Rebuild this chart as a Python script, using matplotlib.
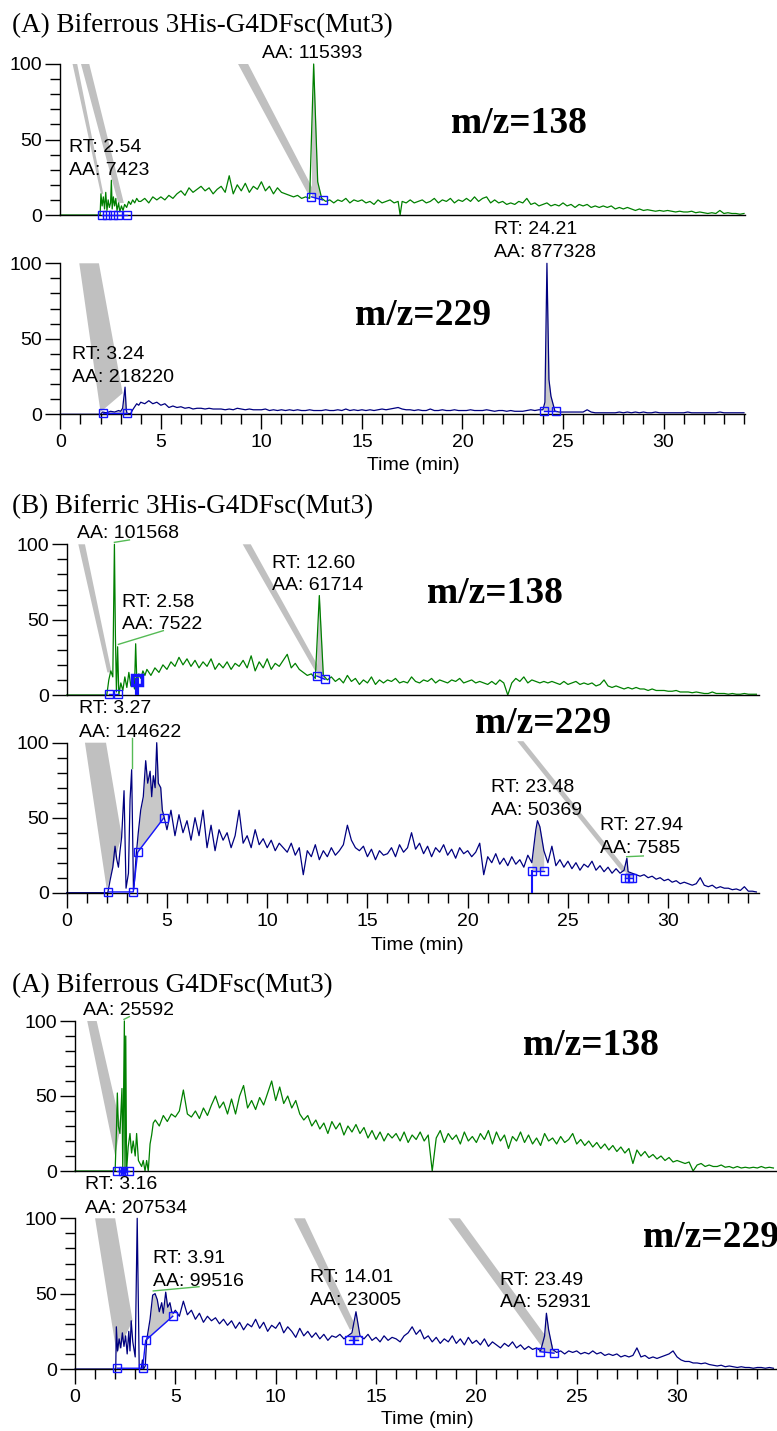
import numpy as np
import matplotlib
matplotlib.use('Agg')
import matplotlib.pyplot as plt

plt.rcParams['font.family'] = ['Liberation Sans', 'DejaVu Sans']

# ---------------- data (time in min, relative abundance in %) ----------------
# each trace = early hand-read points + points on a 0.2 min grid + extra peak points

# (A) Biferrous 3His-G4DFsc(Mut3), m/z=138
p1_t0 = [0, 1.98, 2.02, 2.08, 2.14, 2.2, 2.26, 2.32, 2.38, 2.44, 2.5, 2.54, 2.58, 2.64, 2.7, 2.76,
         2.82, 2.9, 2.96, 3.04, 3.12, 3.2, 3.3, 3.4, 3.5, 3.6, 3.7, 3.8, 3.9]
p1_y0 = [0, 0, 14, 6, 12, 4, 15, 3, 10, 5, 8, 23, 4, 12, 6, 11,
         3, 8, 2, 6, 3, 7, 5, 9, 7, 10, 8, 11, 9]
p1_start = 4.0
p1_grid = [9, 11, 8, 12, 10, 12, 10, 13, 11, 14, 16, 13, 18, 15, 17, 19, 16, 18, 14, 17,
           19, 15, 26, 14, 20, 16, 21, 15, 19, 17, 22, 16, 19, 14, 18, 15, 14, 13, 12, 13,
           11, 12, 11, 100, 22, 11, 9, 10, 8, 10, 9, 11, 8, 10, 9, 10, 8, 9, 7, 10,
           8, 9, 10, 8, 9, 9, 8, 10, 8, 9, 10, 8, 9, 11, 8, 10, 9, 11, 8, 10,
           9, 11, 9, 12, 9, 11, 12, 8, 10, 8, 9, 7, 8, 7, 9, 8, 11, 7, 8, 6,
           7, 8, 6, 7, 6, 8, 6, 7, 5, 7, 6, 7, 5, 6, 5, 6, 5, 6, 4, 5,
           4, 5, 4, 3, 4, 3, 3.5, 3, 2.5, 3, 2.5, 3, 2.5, 2, 2.5, 2, 2, 2.5, 1.5, 2,
           1.5, 1, 1.5, 1, 3, 1, 1.5, 1, 1, 0.5, 1]
p1_tx = [16.9]
p1_yx = [0]

# (A) Biferrous 3His-G4DFsc(Mut3), m/z=229
p2_t0 = [0, 2.0, 2.1, 2.3, 2.5, 2.7, 2.9, 3.0, 3.1, 3.22, 3.28, 3.32, 3.5, 3.6, 3.7, 3.8, 3.9]
p2_y0 = [0, 0, 1.5, 1, 2, 1.5, 2.5, 2, 4, 18, 3, 0.5, 0.5, 3, 5, 7, 6]
p2_start = 4.0
p2_grid = [8, 7, 9, 7, 8, 6, 7, 4.5, 5.5, 4.5, 5, 4, 4.5, 3.5, 4, 4, 3.5, 4, 3.5, 3.5,
           3.5, 3, 3.5, 3, 4, 3.5, 3, 3.5, 3, 3, 3, 3.5, 2.5, 3, 2.5, 3, 2.5, 3, 2.5, 3,
           2.5, 2.5, 3, 2.5, 2.5, 2.5, 3, 2.5, 2.5, 3, 2.5, 3.5, 2.5, 3, 2.5, 3, 2.5, 3, 2.5, 3,
           3.5, 3, 3.5, 4, 4.5, 3.5, 3, 3, 2.5, 3, 2.5, 2.5, 3.5, 2.5, 2.5, 3, 2.5, 2.5, 3, 2.5,
           2.5, 2.5, 3, 2.5, 2.5, 2.5, 3, 2.5, 2, 2.5, 2.5, 2, 2.5, 2, 2, 2, 2.5, 3, 2.5, 3,
           3, 100, 12, 2, 1.5, 1.5, 1.5, 1.5, 1.5, 1.5, 1.5, 3, 1.5, 1, 1, 1, 1, 1, 1, 1.5,
           1, 1.5, 1, 1.5, 1, 1.5, 1, 1, 1.5, 1, 1, 1, 1, 1, 1, 1, 1.5, 1, 1, 1,
           1, 1, 1, 1, 1.5, 1, 1, 1, 1, 1, 1]
p2_tx = [24.1, 24.3]
p2_yx = [8, 23]

# (B) Biferric 3His-G4DFsc(Mut3), m/z=138
p3_t0 = [0, 2.0, 2.1, 2.2, 2.3, 2.38, 2.43, 2.48, 2.54, 2.6, 2.7, 2.8, 2.9, 3.0, 3.1, 3.2,
         3.3, 3.38, 3.44, 3.5, 3.6, 3.7, 3.8, 3.9]
p3_y0 = [0, 0, 10, 16, 12, 100, 39, 2, 32, 0, 8, 3, 12, 5, 15, 6,
         12, 4, 34, 8, 14, 11, 16, 13]
p3_start = 4.0
p3_grid = [17, 13, 18, 15, 20, 17, 22, 19, 25, 20, 24, 19, 23, 18, 22, 19, 24, 17, 21, 18,
           22, 17, 21, 19, 23, 18, 26, 16, 22, 18, 24, 17, 21, 19, 23, 27, 18, 21, 17, 15,
           13, 14, 11, 66, 13, 10, 12, 9, 11, 8, 13, 9, 11, 7, 10, 8, 12, 7, 10, 8,
           10, 9, 11, 8, 9, 8, 12, 9, 8, 10, 9, 11, 8, 10, 9, 8, 10, 9, 11, 8,
           9, 10, 8, 9, 8, 7, 9, 7, 10, 8, 0, 8, 11, 9, 12, 8, 10, 9, 8, 9,
           8, 9, 8, 7, 9, 7, 8, 9, 7, 8, 7, 8, 6, 7, 10, 6, 5, 6, 5, 4,
           5, 4, 5, 4, 4, 3, 4, 3, 3, 3, 2.5, 2.5, 3, 2, 2, 2, 1.5, 2, 1.5, 1,
           1, 2, 1, 1, 1, 0.5, 1, 0.5, 0.5, 1, 0.5, 0.5, 0.5]
p3_tx = []
p3_yx = []

# (B) Biferric 3His-G4DFsc(Mut3), m/z=229
p4_t0 = [0, 2.05, 2.16, 2.3, 2.41, 2.5, 2.58, 2.66, 2.74, 2.86, 2.96, 3.08, 3.16, 3.24, 3.33,
         3.37, 3.46, 3.57, 3.69, 3.82, 3.94, 4.04, 4.16, 4.24, 4.32, 4.41, 4.49, 4.57, 4.69,
         4.77, 4.85]
p4_y0 = [0, 0, 8, 17, 31, 22, 17, 28, 37, 68, 3, 13, 62, 82, 2,
         6, 24, 40, 55, 64, 88, 73, 81, 64, 78, 70, 100, 73, 70,
         55, 51]
p4_start = 5.0
p4_grid = [42, 55, 38, 52, 40, 48, 35, 50, 38, 55, 30, 45, 28, 42, 35, 40, 30, 38, 55, 33,
           38, 30, 42, 32, 36, 30, 35, 28, 33, 30, 27, 33, 25, 30, 12, 28, 24, 32, 22, 28,
           24, 30, 25, 28, 32, 45, 35, 30, 28, 31, 24, 29, 22, 28, 25, 26, 30, 24, 32, 27,
           30, 40, 29, 33, 26, 31, 24, 30, 27, 32, 25, 29, 23, 30, 26, 28, 24, 27, 33, 12,
           24, 20, 26, 19, 23, 18, 24, 19, 22, 17, 25, 20, 42, 44, 28, 20, 31, 18, 22, 17,
           21, 16, 20, 15, 19, 17, 21, 15, 18, 14, 17, 13, 16, 13, 15, 14, 13, 12, 11, 12,
           10, 11, 9, 10, 8, 9, 7, 8, 6, 7, 6, 5, 6, 10, 5, 4, 5, 3, 4, 3,
           3, 2, 2.5, 1.5, 4, 1, 1, 0.5]
p4_tx = [23.48, 27.94]
p4_yx = [48, 23]

# (A) Biferrous G4DFsc(Mut3), m/z=138
p5_t0 = [0, 2.0, 2.06, 2.11, 2.16, 2.24, 2.34, 2.38, 2.46, 2.49, 2.53, 2.57, 2.65, 2.74, 2.82,
         2.9, 3.0, 3.07, 3.16, 3.32, 3.4, 3.49, 3.57, 3.65, 3.74, 3.82, 3.9]
p5_y0 = [0, 0, 25, 52, 30, 25, 55, 0, 100, 0, 90, 0, 16, 25, 12,
         20, 10, 25, 7, 3, 7, 0, 7, 0, 18, 24, 32]
p5_start = 4.0
p5_grid = [34, 30, 37, 33, 38, 36, 40, 54, 38, 36, 40, 35, 42, 37, 44, 50, 42, 46, 38, 48,
           38, 50, 57, 42, 47, 41, 49, 44, 52, 60, 47, 56, 45, 50, 42, 47, 38, 34, 37, 30,
           34, 28, 32, 25, 33, 28, 32, 24, 30, 26, 31, 25, 29, 22, 27, 21, 26, 20, 25, 22,
           25, 20, 26, 19, 24, 21, 26, 20, 24, 0, 22, 27, 19, 25, 21, 24, 18, 26, 20, 23,
           19, 25, 21, 27, 18, 26, 20, 24, 15, 23, 20, 26, 19, 24, 18, 22, 17, 25, 20, 22,
           18, 23, 19, 21, 25, 18, 21, 17, 20, 16, 19, 15, 18, 14, 17, 13, 16, 12, 15, 5,
           14, 10, 13, 9, 11, 8, 10, 7, 9, 6, 7, 6, 5, 6, 0, 4, 5, 3, 4, 3,
           3, 4, 2.5, 3, 2, 3, 2, 2.5, 2, 2.5, 2, 3, 2, 2.5, 2]
p5_tx = []
p5_yx = []

# (A) Biferrous G4DFsc(Mut3), m/z=229
p6_t0 = [0, 2.03, 2.06, 2.12, 2.2, 2.28, 2.36, 2.44, 2.52, 2.6, 2.68, 2.74, 2.8, 2.88, 3.0,
         3.1, 3.2, 3.3, 3.36, 3.42, 3.5, 3.57, 3.74, 3.87, 3.99, 4.1, 4.2, 4.32, 4.4, 4.52,
         4.62, 4.73, 4.82, 4.9]
p6_y0 = [0, 0, 28, 12, 20, 14, 24, 15, 22, 10, 25, 12, 32, 18, 8,
         100, 0, 0, 6, 0, 2, 19, 33, 49, 50, 46, 38, 44, 37, 51,
         41, 44, 38, 37]
p6_start = 5.0
p6_grid = [39, 35, 45, 36, 39, 33, 37, 31, 35, 32, 34, 30, 33, 29, 32, 27, 31, 26, 30, 28,
           33, 27, 31, 25, 29, 27, 31, 24, 28, 25, 21, 27, 22, 25, 21, 24, 20, 23, 19, 22,
           21, 23, 20, 22, 24, 38, 22, 20, 23, 19, 21, 18, 22, 19, 21, 20, 18, 22, 24, 28,
           23, 26, 20, 22, 18, 21, 17, 20, 18, 22, 17, 20, 16, 21, 17, 19, 16, 20, 15, 18,
           16, 14, 17, 15, 18, 14, 16, 13, 15, 13, 14, 12, 22, 26, 13, 11, 12, 10, 12, 11,
           12, 10, 11, 10, 12, 10, 11, 9, 10, 9, 10, 8, 9, 8, 9, 14, 8, 9, 7, 8,
           7, 8, 9, 10, 12, 8, 6, 5, 5, 4, 4, 3.5, 4, 3, 2.5, 2, 2.5, 1.5, 2, 1.5,
           1, 1.5, 1, 1, 0.5, 1, 1, 0.5, 1, 0.5]
p6_tx = [23.49]
p6_yx = [37]

# integration marks (blue squares joined by baselines) and integrated areas
p1_marks = [[(2.06, 0), (2.34, 0), (2.6, 0), (2.85, 0), (3.3, 0)], [(12.49, 12), (13.04, 10)]]
p1_fills = [((12.49, 12), (13.04, 10))]
p2_marks = [[(2.1, 1), (3.34, 1)], [(24.03, 2), (24.66, 2)]]
p2_fills = [((2.1, 1), (3.34, 1)), ((24.03, 2), (24.66, 2))]
p3_marks = [[(2.11, 0.5), (2.58, 0.5)], [(12.47, 12.6), (12.88, 10.4)]]
p3_fills = [((12.47, 12.6), (12.88, 10.4))]
p4_marks = [[(2.08, 0.5), (3.32, 0.5), (3.54, 27), (4.85, 50)], [(23.2, 14.4), (23.79, 14.4)],
            [(27.86, 9.6), (28.05, 9.6), (28.22, 9.6)]]
p4_fills = [((3.54, 27), (4.85, 50)), ((23.2, 14.4), (23.79, 14.4)), ((27.86, 9.6), (28.22, 9.6))]
p5_marks = [[(2.08, 0), (2.39, 0), (2.69, 0)]]
p5_fills = []
p6_marks = [[(2.11, 0.5), (3.37, 0.5), (3.52, 19), (4.87, 35)], [(13.67, 19), (14.12, 19)],
            [(23.17, 11.5), (23.87, 10.5)]]
p6_fills = [((3.52, 19), (4.87, 35)), ((13.67, 19), (14.12, 19)), ((23.17, 11.5), (23.87, 10.5))]

# grey label bands (time, %) corners
p1_bands = [[(0.61, 100), (0.84, 100), (2.14, 14), (2.02, 14)],
            [(1.03, 100), (1.44, 100), (3.16, 8), (2.88, 8)],
            [(8.84, 100), (9.34, 100), (12.65, 15), (12.32, 14)]]
p2_bands = [[(0.945, 100), (1.92, 100), (3.1, 14), (2.0, 1.5)]]
p3_bands = [[(0.58, 100), (0.91, 100), (2.24, 15), (2.03, 15)],
            [(8.78, 100), (9.18, 100), (12.67, 16), (12.39, 16)]]
p4_bands = [[(0.91, 100), (1.96, 100), (2.74, 38), (2.0, 2)],
            [(22.47, 101), (22.78, 101), (28.0, 14), (27.7, 14)]]
p5_bands = [[(0.61, 100), (1.08, 100), (2.28, 30), (2.0, 10)]]
p6_bands = [[(1.0, 100), (2.0, 100), (2.87, 32), (2.08, 10)],
            [(10.91, 100), (11.46, 100), (14.0, 28), (13.7, 26)],
            [(18.6, 100), (19.18, 100), (23.83, 15), (23.25, 15)]]

# green leader lines
p3_leads = [[(2.38, 101.3), (3.13, 102.9)], [(2.58, 33.6), (4.82, 42.7)]]
p4_leads = [[(3.25, 82.9), (3.25, 103.3)], [(27.93, 24), (28.76, 24.5)]]
p5_leads = [[(2.44, 101.1), (2.71, 102.9)]]
p6_leads = [[(3.9, 51.8), (6.18, 54.6)]]

# peak labels: (x px, baseline px, text)
peak_labels = [
    (69, 151.7, 'RT: 2.54'), (69, 175, 'AA: 7423'), (262, 58.3, 'AA: 115393'),
    (72, 359.3, 'RT: 3.24'), (72, 381.7, 'AA: 218220'),
    (494.3, 234.3, 'RT: 24.21'), (494.3, 256.7, 'AA: 877328'),
    (77, 538.3, 'AA: 101568'), (121.7, 606.7, 'RT: 2.58'), (121.7, 629, 'AA: 7522'),
    (271.7, 567.7, 'RT: 12.60'), (271.7, 590, 'AA: 61714'),
    (79, 713.3, 'RT: 3.27'), (79, 736.7, 'AA: 144622'),
    (491, 792.3, 'RT: 23.48'), (491, 815, 'AA: 50369'),
    (600, 830, 'RT: 27.94'), (600, 852.7, 'AA: 7585'),
    (82.7, 1015.3, 'AA: 25592'), (85, 1189, 'RT: 3.16'), (85, 1213.3, 'AA: 207534'),
    (152.7, 1263.3, 'RT: 3.91'), (152.7, 1286, 'AA: 99516'),
    (310, 1281.7, 'RT: 14.01'), (310, 1305, 'AA: 23005'),
    (500, 1285, 'RT: 23.49'), (500, 1307.3, 'AA: 52931'),
]
titles = ['(A) Biferrous 3His-G4DFsc(Mut3)', '(B) Biferric 3His-G4DFsc(Mut3)', '(A) Biferrous G4DFsc(Mut3)']
mz_labels = ['m/z=138', 'm/z=229', 'm/z=138', 'm/z=229', 'm/z=138', 'm/z=229']

# ---------------- drawing ----------------
W, H = 777, 1431
fig = plt.figure(figsize=(W / 100, H / 100), dpi=100)

GREEN = '#008000'
NAVY = '#000080'
BLUE = '#1414ff'
GREY = '#c0c0c0'
LEAD = '#55bb55'


def px_axes(x0, x1, ytop, ybot):
    return fig.add_axes([x0 / W, 1 - ybot / H, (x1 - x0) / W, (ybot - ytop) / H])


def build(t0, y0, start, grid, tx, yx):
    tg = start + 0.2 * np.arange(len(grid))
    t = np.concatenate([t0, tg, tx])
    y = np.concatenate([y0, grid, yx])
    o = np.argsort(t, kind='stable')
    return t[o], y[o]


def fill_peak(ax, t, y, a, b):
    (ta, ya), (tb, yb) = a, b
    m = (t > ta) & (t < tb)
    tt = np.concatenate([[ta], t[m], [tb]])
    yy = np.concatenate([[np.interp(ta, t, y)], y[m], [np.interp(tb, t, y)]])
    base = ya + (yb - ya) * (tt - ta) / (tb - ta)
    ax.fill_between(tt, yy, base, where=yy >= base, interpolate=True,
                    color='#c8c8c8', lw=0, zorder=1.5)


def panel(ax, t, y, color, xmax, bottom, bands, marks, fills, leads):
    ax.set_xlim(0, xmax)
    ax.set_ylim(0, 100)
    for s in ['top', 'right']:
        ax.spines[s].set_visible(False)
    for s in ['left', 'bottom']:
        ax.spines[s].set_linewidth(1.0)
    for b in bands:
        ax.add_patch(plt.Polygon(b, closed=True, color=GREY, lw=0, zorder=1, clip_on=False))
    for a, c in fills:
        fill_peak(ax, t, y, a, c)
    ax.plot(t, y, color=color, lw=0.9, zorder=2, clip_on=False)
    for mk in marks:
        mt, mv = zip(*mk)
        ax.plot(mt, mv, color=BLUE, lw=1.0, marker='s', ms=6, mfc='none', mec=BLUE,
                mew=1.0, zorder=3, clip_on=False)
    for ld in leads:
        lt, lv = zip(*ld)
        ax.plot(lt, lv, color=LEAD, lw=1.0, zorder=3, clip_on=False)
    ax.set_yticks([0, 50, 100])
    ax.set_yticks(np.arange(0, 101, 10), minor=True)
    ax.tick_params(axis='y', which='major', length=11, width=1, pad=2, labelsize=14)
    ax.tick_params(axis='y', which='minor', length=7, width=1)
    if bottom:
        ax.set_xticks(np.arange(0, xmax, 5))
        ax.set_xticks(np.arange(0, xmax, 1), minor=True)
        ax.tick_params(axis='x', which='major', length=10.5, width=1, pad=4, labelsize=14)
        ax.tick_params(axis='x', which='minor', length=7, width=1)
    else:
        ax.tick_params(axis='x', which='both', bottom=False, labelbottom=False)


def ftext(x, y, s, **kw):
    fig.text(x / W, 1 - y / H, s, **kw)


t1, y1 = build(p1_t0, p1_y0, p1_start, p1_grid, p1_tx, p1_yx)
t2, y2 = build(p2_t0, p2_y0, p2_start, p2_grid, p2_tx, p2_yx)
t3, y3 = build(p3_t0, p3_y0, p3_start, p3_grid, p3_tx, p3_yx)
t4, y4 = build(p4_t0, p4_y0, p4_start, p4_grid, p4_tx, p4_yx)
t5, y5 = build(p5_t0, p5_y0, p5_start, p5_grid, p5_tx, p5_yx)
t6, y6 = build(p6_t0, p6_y0, p6_start, p6_grid, p6_tx, p6_yx)

ax1 = px_axes(60.3, 745, 64, 215)
ax2 = px_axes(60.3, 745, 263.3, 414.3)
ax3 = px_axes(66.7, 759, 544.3, 695)
ax4 = px_axes(66.7, 759, 742.7, 892.7)
ax5 = px_axes(75, 777, 1021, 1171)
ax6 = px_axes(75, 777, 1218.3, 1369)

panel(ax1, t1, y1, GREEN, 34.05, False, p1_bands, p1_marks, p1_fills, [])
panel(ax2, t2, y2, NAVY, 34.05, True, p2_bands, p2_marks, p2_fills, [])
panel(ax3, t3, y3, GREEN, 34.53, False, p3_bands, p3_marks, p3_fills, p3_leads)
panel(ax4, t4, y4, NAVY, 34.53, True, p4_bands, p4_marks, p4_fills, p4_leads)
panel(ax5, t5, y5, GREEN, 34.98, False, p5_bands, p5_marks, p5_fills, p5_leads)
panel(ax6, t6, y6, NAVY, 34.98, True, p6_bands, p6_marks, p6_fills, p6_leads)

# extra blue markers
ax3.plot([3.49, 3.49], [0, 10], color=BLUE, lw=3, zorder=3)
ax3.plot([3.49], [10], marker='s', ms=7, mfc='none', mec=BLUE, mew=2.5, zorder=3)
ax4.plot([23.2, 23.2], [0, 14.4], color=BLUE, lw=1.5, zorder=3)
ax5.plot([2.39], [0], marker='o', ms=4, color=BLUE, zorder=3, clip_on=False)

# titles, m/z labels, axis labels
for y, s in zip([32.3, 513.3, 992.3], titles):
    ftext(12, y, s, family='Liberation Serif', fontsize=19.5, va='baseline', ha='left')
for (x, y), s in zip([(451, 132.7), (355, 325), (426.7, 603.3), (475, 733.3),
                      (522.7, 1055), (643.3, 1246.7)], mz_labels):
    ftext(x, y, s, family='Liberation Serif', fontweight='bold', fontsize=27,
          va='baseline', ha='left')
for x, y in [(413, 465), (417.5, 945), (427.5, 1420)]:
    ftext(x, y, 'Time (min)', fontsize=14, ha='center', va='center')
for x, y, s in peak_labels:
    ftext(x, y, s, fontsize=14, ha='left', va='baseline')

fig.savefig('out.png', dpi=100)
